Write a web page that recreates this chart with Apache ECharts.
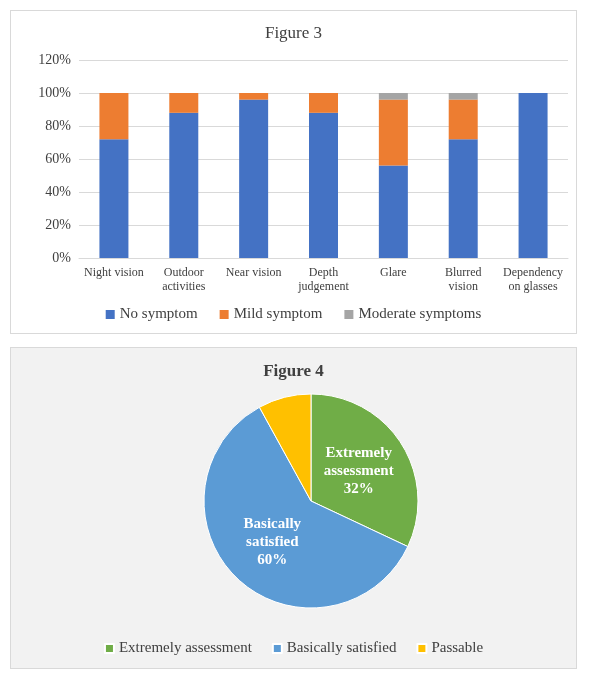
<!DOCTYPE html>
<html>
<head>
<meta charset="utf-8">
<script src="https://cdn.jsdelivr.net/npm/echarts@6/dist/echarts.min.js"></script>
<style>
  body { margin: 0; background: #fff; }
  #main { position: absolute; left: 10px; top: 10px; width: 567px; height: 324px; border: 1px solid #d9d9d9; box-sizing: border-box; }
  #main_2 { position: absolute; left: 10px; top: 347px; width: 567px; height: 322px; border: 1px solid #d9d9d9; box-sizing: border-box; background: #f2f2f2; }
</style>
</head>
<body>
<div id="main"></div>
<div id="main_2"></div>
<script>
// 柱状图数据
var categories = ["Night vision", "Outdoor\nactivities", "Near vision", "Depth\njudgement", "Glare", "Blurred\nvision", "Dependency\non glasses"];
var noSymptom = [72, 88, 96, 88, 56, 72, 100];
var mildSymptom = [28, 12, 4, 12, 40, 24, 0];
var moderateSymptoms = [0, 0, 0, 0, 4, 4, 0];

// 饼图数据
var pieNames = ["Extremely assessment", "Basically satisfied", "Passable"];
var pieValues = [32, 60, 8];
var pieLabels = ["Extremely\nassessment\n32%", "Basically\nsatisfied\n60%", "Passable\n8%"];

var serif = "Liberation Serif";

var myChart = echarts.init(document.getElementById("main"));
var myChart_2 = echarts.init(document.getElementById("main_2"));

function barSeries(name, data, color) {
  return { name: name, type: "bar", stack: "all", barWidth: 29, data: data, itemStyle: { color: color } };
}

myChart.setOption({
  animation: false,
  textStyle: { fontFamily: serif },
  title: { text: "Figure 3", left: "center", top: 9, textStyle: { fontFamily: serif, fontSize: 17, fontWeight: "normal", color: "#404040" } },
  legend: {
    bottom: 6, itemWidth: 9, itemHeight: 9, itemGap: 22, icon: "rect",
    textStyle: { fontFamily: serif, fontSize: 15, color: "#404040" },
    data: ["No symptom", "Mild symptom", "Moderate symptoms"]
  },
  grid: { left: 68, right: 8, top: 49, bottom: 75 },
  xAxis: {
    type: "category", data: categories,
    axisLine: { lineStyle: { color: "#d9d9d9" } }, axisTick: { show: false },
    axisLabel: { fontFamily: serif, fontSize: 12, color: "#404040", interval: 0, lineHeight: 14 }
  },
  yAxis: {
    type: "value", min: 0, max: 120, interval: 20,
    axisLabel: { formatter: "{value}%", fontFamily: serif, fontSize: 14, color: "#404040" },
    splitLine: { lineStyle: { color: "#d9d9d9" } }
  },
  series: [
    barSeries("No symptom", noSymptom, "#4472c4"),
    barSeries("Mild symptom", mildSymptom, "#ed7d31"),
    barSeries("Moderate symptoms", moderateSymptoms, "#a5a5a5")
  ]
});

var pieData = pieNames.map(function (n, i) {
  return { name: n, value: pieValues[i], label: { formatter: pieLabels[i] } };
});

myChart_2.setOption({
  animation: false,
  title: { text: "Figure 4", left: "center", top: 10, textStyle: { fontFamily: serif, fontSize: 17, fontWeight: "bold", color: "#404040" } },
  legend: {
    bottom: 7, itemWidth: 9, itemHeight: 9, itemGap: 20, icon: "rect",
    textStyle: { fontFamily: serif, fontSize: 15, color: "#404040" },
    data: pieNames
  },
  color: ["#70ad47", "#5b9bd5", "#ffc000"],
  series: [{
    type: "pie", center: [300, 153], radius: 107, startAngle: 90, clockwise: true,
    avoidLabelOverlap: false, minShowLabelAngle: 0,
    itemStyle: { borderColor: "#fff", borderWidth: 1 },
    label: { position: "inner", color: "#fff", fontFamily: serif, fontSize: 15, fontWeight: "bold", lineHeight: 18 },
    labelLine: { show: false },
    data: pieData
  }]
});
</script>
</body>
</html>
